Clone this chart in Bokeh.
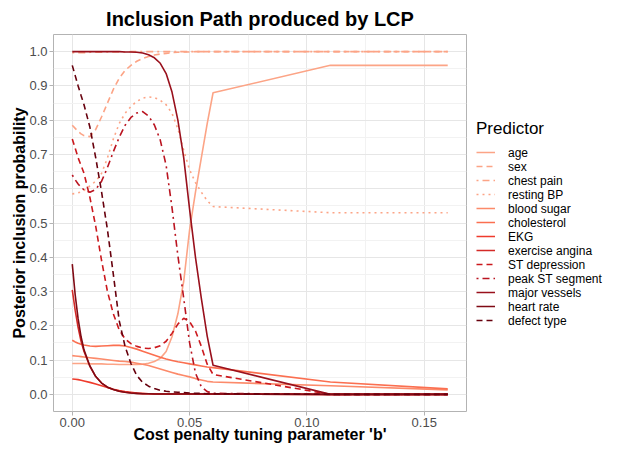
from bokeh.plotting import figure
from bokeh.models import Legend, LegendItem, FixedTicker, NumeralTickFormatter, Spacer
from bokeh.layouts import row
from bokeh.embed import file_html
from bokeh.resources import INLINE

# Cost penalty tuning parameter grid
b = [0.0, 0.00125, 0.0025, 0.00375, 0.005, 0.0075, 0.01, 0.0125, 0.015, 0.0175,
     0.02, 0.0225, 0.025, 0.0275, 0.03, 0.0325, 0.035, 0.0375, 0.04, 0.0425,
     0.045, 0.0475, 0.05, 0.0525, 0.055, 0.0575, 0.06, 0.11, 0.16]

age = [0.090, 0.090, 0.090, 0.090, 0.090, 0.089, 0.089, 0.089, 0.088, 0.088,
       0.087, 0.087, 0.087, 0.087, 0.088, 0.091, 0.096, 0.105, 0.125, 0.168,
       0.235, 0.330, 0.480, 0.590, 0.690, 0.790, 0.880, 0.960, 0.960]
sex = [0.785, 0.776, 0.767, 0.760, 0.755, 0.752, 0.773, 0.810, 0.850, 0.890,
       0.922, 0.945, 0.960, 0.972, 0.980, 0.986, 0.990, 0.993, 0.995, 0.997,
       0.998, 0.999, 0.999, 1.0, 1.0, 1.0, 1.0, 1.0, 1.0]
chest_pain = [0.997, 0.997, 0.997, 0.997, 0.997, 0.998, 0.998, 0.998, 0.999, 0.999,
              0.999, 0.999, 1.0, 1.0, 1.0, 1.0, 1.0, 1.0, 1.0, 1.0,
              1.0, 1.0, 1.0, 1.0, 1.0, 1.0, 1.0, 1.0, 1.0]
resting_bp = [0.585, 0.586, 0.588, 0.591, 0.595, 0.608, 0.622, 0.645, 0.690, 0.745,
              0.790, 0.820, 0.840, 0.855, 0.864, 0.868, 0.866, 0.858, 0.845, 0.820,
              0.775, 0.712, 0.655, 0.618, 0.590, 0.565, 0.548, 0.530, 0.530]
blood_sugar = [0.113, 0.112, 0.111, 0.110, 0.109, 0.107, 0.105, 0.103, 0.101, 0.099,
               0.097, 0.096, 0.094, 0.091, 0.088, 0.084, 0.079, 0.074, 0.069, 0.064,
               0.059, 0.055, 0.051, 0.046, 0.042, 0.038, 0.036, 0.025, 0.013]
cholesterol = [0.158, 0.153, 0.149, 0.146, 0.144, 0.141, 0.140, 0.141, 0.142, 0.143,
               0.143, 0.141, 0.137, 0.132, 0.126, 0.120, 0.114, 0.108, 0.103, 0.099,
               0.095, 0.092, 0.089, 0.086, 0.083, 0.080, 0.078, 0.036, 0.016]
ekg = [0.045, 0.044, 0.043, 0.041, 0.039, 0.035, 0.030, 0.025, 0.020, 0.015,
       0.011, 0.008, 0.006, 0.004, 0.003, 0.002, 0.002, 0.001, 0.001, 0.001,
       0.001, 0.001, 0.001, 0.001, 0.001, 0.001, 0.001, 0.0, 0.0]
exercise_angina = [0.305, 0.245, 0.195, 0.155, 0.125, 0.082, 0.052, 0.033, 0.021, 0.014,
                   0.009, 0.006, 0.004, 0.003, 0.002, 0.002, 0.001, 0.001, 0.001, 0.001,
                   0.001, 0.001, 0.001, 0.001, 0.001, 0.001, 0.001, 0.0, 0.0]
st_depression = [0.745, 0.718, 0.690, 0.668, 0.645, 0.575, 0.490, 0.390, 0.300, 0.235,
                 0.188, 0.162, 0.148, 0.140, 0.135, 0.134, 0.136, 0.142, 0.155, 0.178,
                 0.205, 0.222, 0.212, 0.185, 0.140, 0.088, 0.058, 0.0, 0.0]
peak_st = [0.640, 0.626, 0.614, 0.604, 0.597, 0.590, 0.598, 0.622, 0.662, 0.708,
           0.750, 0.785, 0.808, 0.821, 0.825, 0.812, 0.786, 0.742, 0.668, 0.545,
           0.405, 0.280, 0.150, 0.062, 0.022, 0.008, 0.003, 0.0, 0.0]
major_vessels = [1.0, 1.0, 1.0, 1.0, 1.0, 1.0, 1.0, 1.0, 1.0, 1.0,
                 1.0, 0.999, 0.999, 0.998, 0.996, 0.991, 0.982, 0.966, 0.936, 0.882,
                 0.800, 0.690, 0.540, 0.400, 0.280, 0.170, 0.085, 0.0, 0.0]
heart_rate = [0.380, 0.290, 0.220, 0.168, 0.130, 0.083, 0.052, 0.033, 0.021, 0.014,
              0.009, 0.006, 0.004, 0.003, 0.002, 0.002, 0.001, 0.001, 0.001, 0.001,
              0.001, 0.001, 0.001, 0.001, 0.001, 0.001, 0.001, 0.0, 0.0]
defect_type = [0.960, 0.930, 0.900, 0.872, 0.845, 0.780, 0.690, 0.590, 0.480, 0.350,
               0.215, 0.140, 0.090, 0.055, 0.035, 0.024, 0.017, 0.012, 0.009, 0.007,
               0.006, 0.005, 0.004, 0.003, 0.003, 0.002, 0.002, 0.0, 0.0]

predictor_names = ["age", "sex", "chest pain", "resting BP", "blood sugar", "cholesterol",
                   "EKG", "exercise angina", "ST depression", "peak ST segment",
                   "major vessels", "heart rate", "defect type"]
series = [age, sex, chest_pain, resting_bp, blood_sugar, cholesterol, ekg,
          exercise_angina, st_depression, peak_st, major_vessels, heart_rate, defect_type]
colors = ["#FCA486", "#FCA486", "#FCA486", "#FCA486", "#FC8A6A", "#FB6F50",
          "#EF3B2C", "#D42A27", "#CB181D", "#BA1420", "#99101C", "#7F0A14", "#67000D"]
dashes = ["solid", "6 4", "2 4 7 4", "2 4", "solid", "solid", "solid", "solid",
          "6 4", "2 4 7 4", "solid", "solid", "6 4"]

x_ticks = [0.0, 0.05, 0.10, 0.15]
x_minor = [0.025, 0.075, 0.125]
y_ticks = [0.0, 0.1, 0.2, 0.3, 0.4, 0.5, 0.6, 0.7, 0.8, 0.9, 1.0]
y_minor = [0.05, 0.15, 0.25, 0.35, 0.45, 0.55, 0.65, 0.75, 0.85, 0.95]

FONT = "Liberation Sans"

p = figure(frame_width=413, frame_height=377, output_backend="svg", toolbar_location=None,
           x_range=(-0.008, 0.168), y_range=(-0.05, 1.05),
           min_border_left=0, min_border_right=0, min_border_top=0, min_border_bottom=0,
           background_fill_color="white", border_fill_color="white")

p.title.text = "Inclusion Path produced by LCP"
p.title.align = "center"
p.title.text_font = FONT
p.title.text_font_size = "20px"
p.title.text_font_style = "bold"
p.title.text_color = "black"
p.title.standoff = 10

p.xaxis.ticker = FixedTicker(ticks=x_ticks, minor_ticks=x_minor)
p.yaxis.ticker = FixedTicker(ticks=y_ticks, minor_ticks=y_minor)
p.xaxis.formatter = NumeralTickFormatter(format="0.00")
p.yaxis.formatter = NumeralTickFormatter(format="0.0")
p.xaxis.axis_label = "Cost penalty tuning parameter 'b'"
p.yaxis.axis_label = "Posterior inclusion probability"
for ax in (p.xaxis, p.yaxis):
    ax.axis_label_text_font = FONT
    ax.axis_label_text_font_size = "16px"
    ax.axis_label_text_font_style = "bold"
    ax.axis_label_text_color = "black"
    ax.major_label_text_font = FONT
    ax.major_label_text_font_size = "13px"
    ax.major_label_text_color = "#4D4D4D"
    ax.axis_line_color = None
    ax.major_tick_line_color = "#B3B3B3"
    ax.major_tick_out = 4
    ax.major_tick_in = 0
    ax.minor_tick_line_color = None
p.xaxis.major_label_standoff = 2
p.xaxis.axis_label_standoff = -4
p.yaxis.major_label_standoff = 2
p.yaxis.axis_label_standoff = -2

p.xgrid.grid_line_color = "#E6E6E6"
p.ygrid.grid_line_color = "#E6E6E6"
p.xgrid.minor_grid_line_color = "#F2F2F2"
p.ygrid.minor_grid_line_color = "#F2F2F2"
p.outline_line_color = "#B3B3B3"
p.outline_line_width = 1

items = []
for name, ys, col, dash in zip(predictor_names, series, colors, dashes):
    r = p.line(b, ys, line_color=col, line_width=1.6, line_dash=dash)
    items.append(LegendItem(label=name, renderers=[r]))

legend = Legend(items=items, title="Predictor", location="center_left")
legend.title_text_font = FONT
legend.title_text_font_size = "17px"
legend.title_text_font_style = "normal"
legend.title_text_color = "black"
legend.title_standoff = 7
legend.label_text_font = FONT
legend.label_text_font_size = "12px"
legend.label_text_color = "black"
legend.label_height = 13
legend.glyph_height = 13
legend.glyph_width = 19
legend.label_standoff = 13
legend.spacing = 0
legend.padding = 4
legend.margin = 10
legend.border_line_color = None
legend.background_fill_alpha = 0
p.add_layout(legend, "right")

layout = row(Spacer(width=8), p)
open("out.html", "w").write(file_html(layout, INLINE))
